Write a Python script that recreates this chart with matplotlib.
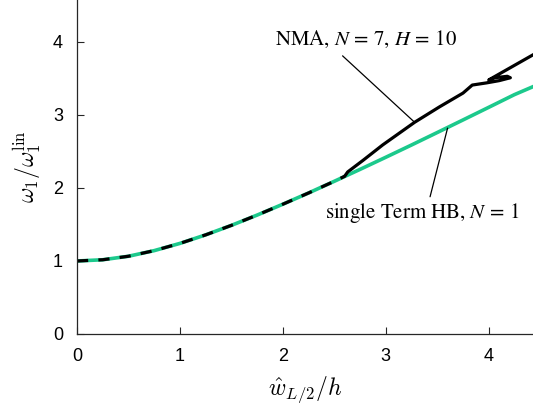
import matplotlib
matplotlib.use("Agg")
import matplotlib.pyplot as plt

plt.rcParams['mathtext.fontset'] = 'cm'

# single Term HB, N = 1 (Backbone)
hb_x = [0, 0.25, 0.5, 0.75, 1.0, 1.25, 1.5, 1.75, 2.0, 2.25, 2.5, 2.75,
        3.0, 3.25, 3.5, 3.75, 4.0, 4.25, 4.45]
hb_y = [1.00, 1.017, 1.065, 1.142, 1.241, 1.358, 1.488, 1.629, 1.778, 1.932,
        2.092, 2.255, 2.421, 2.589, 2.760, 2.932, 3.105, 3.279, 3.40]

# NMA, N = 7, H = 10: Teil, der mit HB zusammenfaellt (gestrichelt)
nma_lo_x = [0, 0.25, 0.5, 0.75, 1.0, 1.25, 1.5, 1.75, 2.0, 2.25, 2.5, 2.6]
nma_lo_y = [1.00, 1.017, 1.065, 1.142, 1.241, 1.358, 1.488, 1.629, 1.778,
            1.932, 2.092, 2.16]

# NMA: abweichender Teil inkl. Schleife
nma_hi_x = [2.6, 2.63, 2.78, 2.97, 3.28, 3.52, 3.75, 3.84, 3.98, 4.10, 4.21,
            4.18, 4.06, 4.00, 4.20, 4.45]
nma_hi_y = [2.16, 2.22, 2.38, 2.59, 2.90, 3.11, 3.30, 3.41, 3.44, 3.47, 3.51,
            3.53, 3.51, 3.48, 3.64, 3.84]

green = '#1cc98c'

fig = plt.figure(figsize=(5.33, 4.07), dpi=100)
ax = fig.add_axes([77/533, 73/407, 456/533, 334/407])

ax.plot(hb_x, hb_y, color=green, linewidth=2.6, solid_capstyle='butt')
ax.plot(nma_lo_x, nma_lo_y, color='black', linewidth=2.3,
        dashes=(3.5, 3.2))
ax.plot(nma_hi_x, nma_hi_y, color='black', linewidth=2.3,
        solid_joinstyle='round', solid_capstyle='round')

# Beschriftungen mit Hinweislinien
txt = dict(ha='center', va='center', fontsize=15, family='STIXGeneral',
           math_fontfamily='stix')
ax.text(2.81, 4.03, r'NMA, $N\,=\,7$, $H\,=\,10$', **txt)
ax.annotate('', xy=(3.28, 2.90), xytext=(2.58, 3.81),
            arrowprops=dict(arrowstyle='-', color='black', lw=0.9,
                            shrinkA=0, shrinkB=0))
ax.text(3.35, 1.66, r'single Term HB, $N\,=\,1$', **txt)
ax.annotate('', xy=(3.60, 2.82), xytext=(3.43, 1.88),
            arrowprops=dict(arrowstyle='-', color='black', lw=0.9,
                            shrinkA=0, shrinkB=0))

ax.set_xlim(0, 4.43)
ax.set_ylim(0, 4.575)
ax.set_xticks([0, 1, 2, 3, 4])
ax.set_yticks([0, 1, 2, 3, 4])
ax.spines['top'].set_visible(False)
ax.spines['right'].set_visible(False)
for s in ['left', 'bottom']:
    ax.spines[s].set_color('#262626')
    ax.spines[s].set_linewidth(0.9)
ax.tick_params(direction='in', length=5, width=0.8, labelsize=13,
               colors='#262626', pad=10)
for lab in ax.get_xticklabels() + ax.get_yticklabels():
    lab.set_family('Liberation Sans')
    lab.set_color('black')

ax.set_xlabel(r'$\hat{w}_{L/2}/h$', fontsize=17, labelpad=7)
ax.set_ylabel(r'$\omega_1/\omega_1^{\rm lin}$', fontsize=17, labelpad=7)

plt.savefig('out.png', dpi=100)
plt.close()
